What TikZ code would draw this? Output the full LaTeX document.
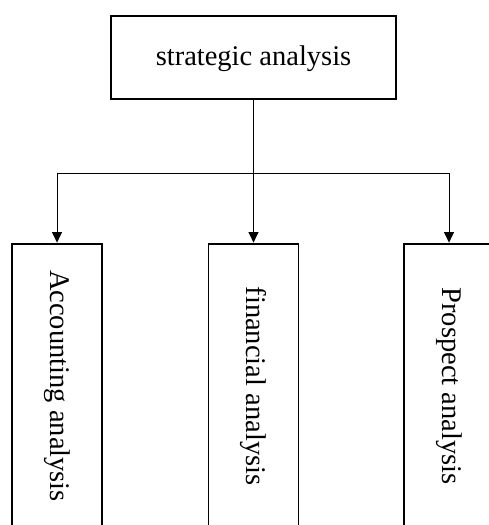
\documentclass[tikz,border=0pt]{standalone}
\usepackage{fontspec}
\setmainfont{Liberation Serif}
\usetikzlibrary{arrows.meta}
\begin{document}
\begin{tikzpicture}[x=1pt,y=1pt,
  topbox/.style={draw, line width=1.4pt, minimum width=285pt, minimum height=83pt, inner sep=0pt},
  subbox/.style={draw, line width=1.4pt, minimum width=90pt, minimum height=284pt, inner sep=0pt},
  lbl/.style={font=\fontsize{28.5}{34}\selectfont, inner sep=0pt},
  conn/.style={line width=1pt},
  arr/.style={conn, -{Triangle[length=10.5pt,width=10pt]}, shorten >=0.7pt}]
\useasboundingbox (0,0) rectangle (489,525);
\clip (0,0) rectangle (489,525);
\node[topbox] (top) at (253.5,467.5) {};
\node[lbl] (toptext) at ([yshift=-1.5pt]top.center) {strategic analysis};
\node[subbox] (acc) at (57,139) {};
\node[subbox] (fin) at (253.5,139) {};
\node[subbox] (pro) at (449,139) {};
\node[lbl, rotate=-90] (acctext) at (acc.center) {Accounting analysis};
\node[lbl, rotate=-90] (fintext) at (fin.center) {financial analysis};
\node[lbl, rotate=-90] (protext) at (pro.center) {Prospect analysis};
\coordinate (j) at (253.5,351);
\draw[conn, line width=1.2pt] (top.south) -- (j);
\draw[arr] (j) -| (acc.north);
\draw[arr] (j) -- (fin.north);
\draw[arr] (j) -| (pro.north);
\end{tikzpicture}
\end{document}
